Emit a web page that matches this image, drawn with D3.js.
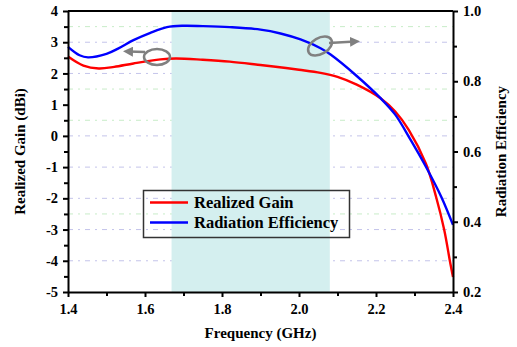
<!DOCTYPE html>
<html>
<head>
<meta charset="utf-8">
<script src="https://cdn.jsdelivr.net/npm/d3@7"></script>
<style>
  body{margin:0;background:#fff;}
  svg{display:block;}
</style>
</head>
<body>
<div id="chart"></div>
<script>
// values
var freq = [1.40, 1.44, 1.48, 1.52, 1.57, 1.64, 1.68, 1.75, 1.82, 1.90, 1.95, 2.00, 2.056, 2.10, 2.15, 2.2125, 2.25, 2.285, 2.33, 2.356, 2.377, 2.393, 2.40];
var gain = [2.54, 2.25, 2.16, 2.21, 2.32, 2.45, 2.48, 2.44, 2.38, 2.27, 2.20, 2.12, 2.02, 1.89, 1.64, 1.20, 0.78, 0.19, -0.90, -1.95, -3.00, -4.08, -4.52];

var effFreq = [1.40, 1.43, 1.452, 1.50, 1.53, 1.57, 1.614, 1.657, 1.70, 1.75, 1.82, 1.90, 1.952, 2.004, 2.056, 2.082, 2.15, 2.2125, 2.25, 2.29, 2.33, 2.37, 2.40];
var eff = [0.898, 0.874, 0.868, 0.878, 0.893, 0.917, 0.938, 0.954, 0.958, 0.957, 0.954, 0.947, 0.936, 0.919, 0.894, 0.876, 0.815, 0.751, 0.705, 0.633, 0.556, 0.470, 0.391];

var band = [1.669, 2.08];
var seriesNames = ['Realized Gain', 'Radiation Efficiency'];
var seriesColors = ['#ff0000', '#0000ff'];
var gridMajor = [3, 2, 0, -1, -2, -3, -4];
var gridGreen = [3.5, 1.5, 0.5, -2.5];

var FONT = '"Liberation Serif", "Times New Roman", serif';

var width = 517, height = 347;
var m = {left: 68, right: 64, top: 11, bottom: 55};

var x = d3.scaleLinear().domain([1.4, 2.4]).range([m.left, width - m.right]);
var y = d3.scaleLinear().domain([-5, 4]).range([height - m.bottom, m.top]);
var y2 = d3.scaleLinear().domain([0.2, 1.0]).range([height - m.bottom, m.top]);

var svg = d3.select('#chart').append('svg')
  .attr('width', width)
  .attr('height', height);

// grid lines
svg.append('g').selectAll('line').data(gridMajor).join('line')
  .attr('x1', x(1.4)).attr('x2', x(2.4))
  .attr('y1', d => y(d)).attr('y2', d => y(d))
  .attr('stroke', '#c4c4ea').attr('stroke-width', 1)
  .attr('stroke-dasharray', '5,5,2,5');
svg.append('g').selectAll('line').data(gridGreen).join('line')
  .attr('x1', x(1.4)).attr('x2', x(2.4))
  .attr('y1', d => y(d)).attr('y2', d => y(d))
  .attr('stroke', '#c8ecc8').attr('stroke-width', 1)
  .attr('stroke-dasharray', '5,5,2,5');

// shaded band
svg.append('rect')
  .attr('x', x(band[0]))
  .attr('y', m.top)
  .attr('width', x(band[1]) - x(band[0]))
  .attr('height', y(-5) - m.top)
  .attr('fill', '#d4efef');

// curves
var lineGain = d3.line()
  .x((d, i) => x(freq[i]))
  .y(d => y(d))
  .curve(d3.curveCatmullRom);
var lineEff = d3.line()
  .x((d, i) => x(effFreq[i]))
  .y(d => y2(d))
  .curve(d3.curveCatmullRom);

svg.append('path').attr('d', lineGain(gain))
  .attr('fill', 'none').attr('stroke', seriesColors[0]).attr('stroke-width', 2.4);
svg.append('path').attr('d', lineEff(eff))
  .attr('fill', 'none').attr('stroke', seriesColors[1]).attr('stroke-width', 2.4);

// axes
function styleAxis(g){
  g.attr('font-family', null);
  g.selectAll('.domain').attr('stroke', '#000').attr('stroke-width', 2);
  g.selectAll('.tick line').attr('stroke', '#000').attr('stroke-width', 2);
  g.selectAll('.tick text')
    .style('font-family', FONT)
    .style('font-weight', 'bold')
    .style('font-size', '14.5px')
    .attr('fill', '#000');
}

var xTicks = d3.range(14, 25).map(d => d / 10);
var gx = svg.append('g').attr('transform', `translate(0,${y(-5)})`)
  .call(d3.axisBottom(x).tickValues(xTicks).tickSizeOuter(0).tickPadding(6)
    .tickFormat(d => Math.round(d * 10) % 2 === 0 ? d3.format('.1f')(d) : ''));
styleAxis(gx);
gx.selectAll('.tick line').attr('y2', d => Math.round(d * 10) % 2 === 0 ? 5 : 4);
gx.selectAll('.tick text').attr('y', 12);

var yTicks = d3.range(-10, 9).map(d => d / 2);
var gy = svg.append('g').attr('transform', `translate(${x(1.4)},0)`)
  .call(d3.axisLeft(y).tickValues(yTicks).tickSizeOuter(0).tickPadding(4)
    .tickFormat(d => Number.isInteger(d) ? d : ''));
styleAxis(gy);
gy.selectAll('.tick line').attr('x2', d => Number.isInteger(d) ? -5 : -4);

var y2Ticks = d3.range(2, 11).map(d => d / 10);
var gy2 = svg.append('g').attr('transform', `translate(${x(2.4)},0)`)
  .call(d3.axisRight(y2).tickValues(y2Ticks).tickSizeOuter(0).tickPadding(4)
    .tickFormat(d => Math.round(d * 10) % 2 === 0 ? d3.format('.1f')(d) : ''));
styleAxis(gy2);
gy2.selectAll('.tick line').attr('x2', d => Math.round(d * 10) % 2 === 0 ? 5 : 4);

// top frame line
svg.append('line')
  .attr('x1', x(1.4)).attr('x2', x(2.4))
  .attr('y1', y(4)).attr('y2', y(4))
  .attr('stroke', '#000').attr('stroke-width', 2);

// axis titles
function title(sel){
  return sel.style('font-family', FONT).style('font-weight', 'bold')
    .style('font-size', '15px').attr('fill', '#000');
}
svg.append('text')
  .attr('transform', `translate(25,${(y(4) + y(-5)) / 2}) rotate(-90)`)
  .attr('text-anchor', 'middle')
  .call(title)
  .text('Realized Gain (dBi)');
svg.append('text')
  .attr('transform', `translate(506,${(y(4) + y(-5)) / 2}) rotate(-90)`)
  .attr('text-anchor', 'middle')
  .call(title)
  .text('Radiation Efficiency');
svg.append('text')
  .attr('x', (x(1.4) + x(2.4)) / 2)
  .attr('y', 338)
  .attr('text-anchor', 'middle')
  .call(title)
  .text('Frequency (GHz)');

// annotation ellipses + arrows
svg.append('defs').append('marker')
  .attr('id', 'arr')
  .attr('viewBox', '0 0 10 10')
  .attr('refX', 5).attr('refY', 5)
  .attr('markerWidth', 4).attr('markerHeight', 4)
  .attr('orient', 'auto')
  .append('path').attr('d', 'M0,0 L10,5 L0,10 z').attr('fill', '#808080');

svg.append('ellipse')
  .attr('cx', 157).attr('cy', 57).attr('rx', 13).attr('ry', 8)
  .attr('fill', 'none').attr('stroke', '#808080').attr('stroke-width', 2.5);
svg.append('line')
  .attr('x1', 145).attr('y1', 52).attr('x2', 128).attr('y2', 51.5)
  .attr('stroke', '#808080').attr('stroke-width', 2.5)
  .attr('marker-end', 'url(#arr)');

svg.append('ellipse')
  .attr('transform', 'translate(320,46) rotate(-30)')
  .attr('rx', 13).attr('ry', 8)
  .attr('fill', 'none').attr('stroke', '#808080').attr('stroke-width', 2.5);
svg.append('line')
  .attr('x1', 329).attr('y1', 43).attr('x2', 355).attr('y2', 41.5)
  .attr('stroke', '#808080').attr('stroke-width', 2.5)
  .attr('marker-end', 'url(#arr)');

// legend
var lg = svg.append('g');
lg.append('rect')
  .attr('x', 143.5).attr('y', 190.5).attr('width', 206).attr('height', 47)
  .attr('fill', 'none').attr('stroke', '#333').attr('stroke-width', 1.5);
seriesNames.forEach(function(name, i){
  var yy = 202.5 + i * 20;
  lg.append('line')
    .attr('x1', 150).attr('x2', 188).attr('y1', yy).attr('y2', yy)
    .attr('stroke', seriesColors[i]).attr('stroke-width', 2.4);
  lg.append('text')
    .attr('x', 194).attr('y', yy + 5.5)
    .call(title)
    .style('font-size', '16.5px')
    .text(name);
});
</script>
</body>
</html>
